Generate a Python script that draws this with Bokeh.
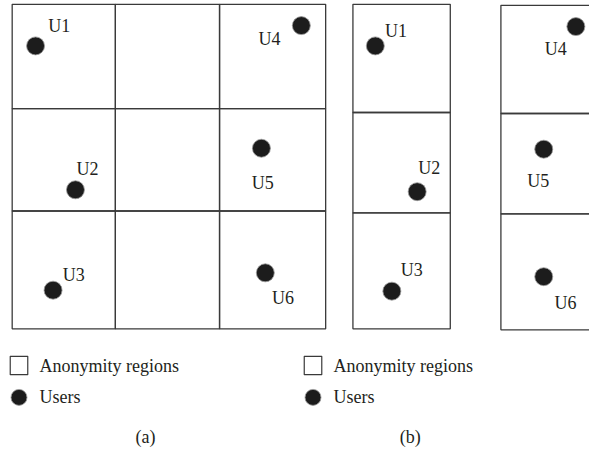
from bokeh.plotting import figure
from bokeh.models import Range1d
from bokeh.core.properties import value
from bokeh.embed import file_html
from bokeh.resources import INLINE

# ---- data (diagram coordinates, reference pixel space) ----
a_col_edges = [12, 118, 225, 334]
a_row_edges = [4, 112, 218, 340]
b_left_col_edges = [362, 462]
b_left_row_edges = [4, 116, 220, 340]
b_right_col_edges = [514, 660]
b_right_row_edges = [5, 117, 221, 341]

users = ["U1", "U2", "U3", "U4", "U5", "U6"]
a_user_x = [36, 77, 54, 309, 268, 272]
a_user_y = [47, 196, 300, 26, 153, 282]
a_label_x = [49, 78, 64, 265, 258, 279]
a_label_y = [26, 174, 284, 40, 189, 308]
b_user_x = [385, 428, 402, 591, 558, 558]
b_user_y = [47, 198, 301, 27, 154, 286]
b_label_x = [395, 429, 411, 559, 541, 569]
b_label_y = [32, 173, 279, 50, 187, 313]

legend_texts = ["Anonymity regions", "Users"]
legend_sq_x = [10, 312]
legend_text_x = [40, 342]
legend_rows_y = [378, 411]
captions = ["(a)", "(b)"]
caption_x = [149, 421]
caption_y = [452, 452]

LINE = "#3a3a3a"
DOT = "#1c1c1c"
TXT = "#231f20"
FONT = value("Liberation Serif")

p = figure(width=589, height=450, output_backend="svg", toolbar_location=None,
           x_range=Range1d(0, 605), y_range=Range1d(466, 0),
           min_border=0, outline_line_color=None)
p.axis.visible = False
p.grid.visible = False


def cells(col_edges, row_edges):
    l, r, t, b = [], [], [], []
    for i in range(len(col_edges) - 1):
        for j in range(len(row_edges) - 1):
            l.append(col_edges[i]); r.append(col_edges[i + 1])
            t.append(row_edges[j]); b.append(row_edges[j + 1])
    return l, r, t, b


for ce, re_ in [(a_col_edges, a_row_edges), (b_left_col_edges, b_left_row_edges),
                (b_right_col_edges, b_right_row_edges)]:
    l, r, t, b = cells(ce, re_)
    p.quad(left=l, right=r, top=t, bottom=b, fill_color=None,
           line_color=LINE, line_width=1.3)

for ux, uy, lx, ly in [(a_user_x, a_user_y, a_label_x, a_label_y),
                       (b_user_x, b_user_y, b_label_x, b_label_y)]:
    p.scatter(x=ux, y=uy, size=18, fill_color=DOT, line_color="#9a9a9a", line_width=0.8)
    p.text(x=lx, y=ly, text=users, text_font=FONT, text_font_size="18px",
           text_color=TXT, text_baseline="middle", text_align="left")

# legends
for sx, tx in zip(legend_sq_x, legend_text_x):
    p.quad(left=[sx], right=[sx + 18], top=[legend_rows_y[0] - 9.5], bottom=[legend_rows_y[0] + 9.5],
           fill_color=None, line_color=LINE, line_width=1.2)
    p.scatter(x=[sx + 9], y=[legend_rows_y[1]], size=16, fill_color=DOT,
              line_color="#9a9a9a", line_width=0.8)
    p.text(x=[tx, tx], y=legend_rows_y, text=legend_texts, text_font=FONT,
           text_font_size="18px", text_color=TXT, text_baseline="middle", text_align="left")

p.text(x=caption_x, y=caption_y, text=captions, text_font=FONT, text_font_size="18px",
       text_color=TXT, text_baseline="middle", text_align="center")

open("out.html", "w").write(file_html(p, INLINE))
